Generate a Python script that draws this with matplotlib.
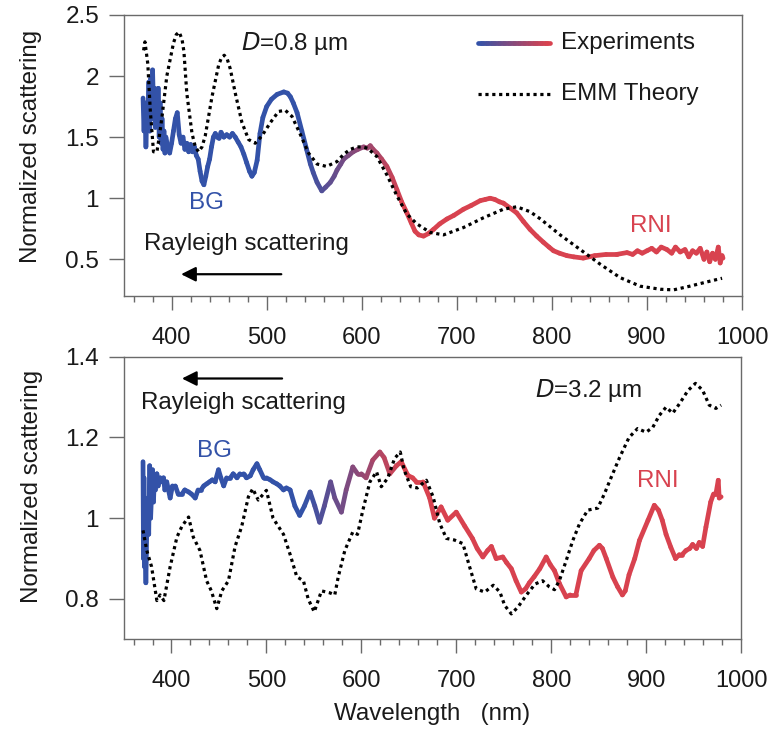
import numpy as np
import matplotlib
matplotlib.use("Agg")
import matplotlib.pyplot as plt
from matplotlib.collections import LineCollection
from matplotlib.colors import to_rgb
from matplotlib.ticker import MultipleLocator, FixedLocator, FixedFormatter

plt.rcParams['font.family'] = ['Liberation Sans', 'DejaVu Sans']

# ---------------- data ----------------
top_exp_wl = [370, 371, 372, 373, 374, 375, 376, 377, 378, 379, 380, 381, 382, 383, 384, 385, 386, 387, 388, 389,
              390, 391, 392, 393, 394, 396, 398, 400, 402, 404, 406, 408, 410, 412, 414, 416, 418, 420, 422, 424,
              426, 428, 430, 432, 434, 436, 438, 440, 442, 444, 446, 448, 450, 452, 455, 458, 461, 464, 467, 470,
              473, 476, 479, 482, 484.5, 487, 490, 493, 496, 500, 505, 511, 518, 522, 525, 528, 532, 537, 542, 546,
              549, 553, 558, 562, 567, 571, 574, 578, 581, 586, 591, 596, 602, 606, 609, 612, 616, 621, 626.5, 632,
              637, 642, 647.5, 652, 656, 660, 665, 670, 675.5, 682, 689.6, 697, 707, 715, 724.6, 730, 735, 740,
              745, 749, 756, 763, 770, 777, 784, 791, 797, 801.7, 808, 815.8, 823, 833, 845, 857, 868, 879,
              885, 890, 895, 900, 905, 910, 915, 921, 926, 930, 935, 940, 944, 948, 952, 956, 960, 963, 966, 969,
              972, 975, 977, 979, 980]
top_exp_val = [1.82, 1.55, 1.78, 1.42, 1.70, 1.60, 1.95, 1.55, 1.98, 1.65, 2.05, 1.75, 1.90, 1.58, 1.85, 1.62, 1.90, 1.50, 1.78, 1.45,
               1.65, 1.40, 1.55, 1.37, 1.50, 1.42, 1.37, 1.45, 1.55, 1.65, 1.70, 1.52, 1.45, 1.50, 1.40, 1.45, 1.38, 1.44, 1.38, 1.42,
               1.35, 1.32, 1.22, 1.14, 1.11, 1.18, 1.26, 1.32, 1.42, 1.50, 1.53, 1.50, 1.49, 1.54, 1.50, 1.52, 1.50, 1.53, 1.50, 1.46,
               1.42, 1.36, 1.29, 1.22, 1.18, 1.21, 1.31, 1.53, 1.66, 1.75, 1.81, 1.85, 1.87, 1.86, 1.83, 1.78, 1.70, 1.55, 1.40, 1.28,
               1.21, 1.13, 1.06, 1.09, 1.13, 1.18, 1.23, 1.28, 1.32, 1.35, 1.38, 1.40, 1.42, 1.41, 1.43, 1.40, 1.37, 1.32, 1.26, 1.17,
               1.07, 0.97, 0.88, 0.80, 0.73, 0.70, 0.69, 0.71, 0.745, 0.79, 0.83, 0.86, 0.91, 0.94, 0.98, 0.99, 1.00, 0.99,
               0.97, 0.96, 0.92, 0.88, 0.81, 0.745, 0.69, 0.64, 0.60, 0.57, 0.55, 0.53, 0.52, 0.51, 0.53, 0.54, 0.54, 0.555,
               0.54, 0.57, 0.55, 0.57, 0.59, 0.56, 0.60, 0.58, 0.55, 0.60, 0.56, 0.58, 0.52, 0.57, 0.55, 0.59, 0.50, 0.56, 0.48, 0.55,
               0.50, 0.60, 0.47, 0.53, 0.51]

top_th_wl = [370.6, 372, 375, 377.6, 381, 384.6, 387, 390, 395, 402, 405, 408, 411, 413, 416, 421.5, 425, 428.4, 432, 435.4,
             442.5, 449.5, 452.5, 455.4, 458.5, 461.7, 467, 474, 481, 488, 495, 504, 512.5, 519.6, 526.6, 535, 544, 553,
             563, 574, 581, 588, 595, 600, 606, 616, 626.5, 637, 647.5, 658, 672, 686, 707, 728, 749, 763, 777, 788,
             808.7, 829.8, 850.8, 871.8, 892.9, 914, 928, 945, 963, 979]
top_th_val = [2.21, 2.28, 2.10, 1.72, 1.38, 1.38, 1.50, 1.67, 2.00, 2.27, 2.34, 2.36, 2.30, 2.20, 1.86, 1.53, 1.42, 1.38, 1.42, 1.51,
              1.83, 2.09, 2.15, 2.17, 2.14, 2.06, 1.86, 1.62, 1.48, 1.45, 1.51, 1.62, 1.71, 1.72, 1.67, 1.53, 1.37, 1.28,
              1.26, 1.30, 1.36, 1.40, 1.42, 1.42, 1.41, 1.34, 1.19, 1.02, 0.87, 0.79, 0.72, 0.70, 0.76, 0.84, 0.91, 0.93, 0.89, 0.83,
              0.70, 0.58, 0.46, 0.35, 0.28, 0.255, 0.25, 0.28, 0.315, 0.345]

bot_exp_wl = [370, 370.5, 371, 371.5, 372, 373, 374, 375, 376, 377, 378, 379, 380, 381, 382, 383, 384.6, 386, 388, 390,
              391.6, 393, 395, 398.6, 401, 404, 407, 411, 414, 418, 421, 425, 428, 431, 434, 437, 440, 443, 446, 449.5,
              452, 455, 458, 462, 465, 469, 472, 476, 479, 483, 486, 490, 493, 497, 500, 504, 507, 511, 514, 518,
              521, 525, 530, 535, 540, 546, 551, 556, 561, 567.6, 572, 579, 584, 591, 596, 600, 605, 612, 619.5, 624,
              630, 637, 642, 649, 654, 658, 665, 672, 677, 684, 691, 700, 709, 717, 722, 728, 733, 737, 742, 749,
              753, 758, 763, 768.5, 773, 777, 782, 788, 794.7, 799, 803.5, 808.7, 815.8, 820, 826, 831.5, 840, 845, 850.8, 854,
              858, 865, 870, 875, 878, 882, 888, 893, 902, 908.6, 913, 917, 921, 926, 931, 935, 938, 942, 946, 949,
              953, 956, 959.5, 963, 968, 971, 973.5, 976, 977, 979]
bot_exp_val = [1.14, 0.90, 1.10, 0.88, 0.95, 0.84, 0.98, 1.05, 0.96, 1.13, 1.00, 1.06, 1.12, 1.04, 1.10, 1.07, 1.11, 1.08, 1.10, 1.09,
               1.10, 1.07, 1.09, 1.05, 1.08, 1.08, 1.06, 1.06, 1.07, 1.065, 1.06, 1.05, 1.07, 1.07, 1.08, 1.085, 1.09, 1.095, 1.09, 1.12,
               1.10, 1.08, 1.10, 1.10, 1.11, 1.10, 1.11, 1.11, 1.10, 1.105, 1.12, 1.135, 1.12, 1.10, 1.10, 1.095, 1.09, 1.085, 1.08, 1.07,
               1.075, 1.07, 1.03, 1.007, 1.03, 1.065, 1.03, 0.99, 1.03, 1.09, 1.05, 1.015, 1.07, 1.127, 1.11, 1.11, 1.10, 1.144, 1.164, 1.15,
               1.11, 1.13, 1.14, 1.106, 1.10, 1.09, 1.09, 1.05, 1.00, 1.028, 0.995, 1.015, 0.98, 0.95, 0.925, 0.904, 0.92, 0.93, 0.90, 0.904,
               0.89, 0.875, 0.845, 0.817, 0.825, 0.84, 0.855, 0.875, 0.904, 0.885, 0.87, 0.838, 0.805, 0.81, 0.81, 0.87, 0.90, 0.92, 0.933, 0.925,
               0.90, 0.854, 0.83, 0.81, 0.82, 0.86, 0.90, 0.945, 0.995, 1.032, 1.02, 0.995, 0.96, 0.928, 0.90, 0.91, 0.91, 0.92, 0.925, 0.935,
               0.925, 0.94, 0.93, 0.978, 1.04, 1.06, 1.06, 1.094, 1.05, 1.053]

bot_th_wl = [370, 374, 379, 384.6, 388, 392, 398.6, 405.7, 411, 418, 423, 430, 437, 442, 447.7, 453, 460, 467, 474, 481,
             485.6, 491.4, 500, 507, 518, 525, 532, 539, 544, 550.4, 558, 567, 572, 575.6, 582.6, 591, 596, 601.6, 609, 616,
             621, 628, 635, 641, 645, 652, 659, 668.5, 675.6, 682.6, 689.6, 698, 707, 714, 721, 730, 739, 746, 751, 758,
             765, 774, 783, 791, 798, 803.5, 808.7, 815.8, 822.8, 829.8, 838.5, 849, 856, 863, 872, 882, 891, 900, 907, 914,
             921, 928, 935, 944, 952, 959.5, 966.5, 973.5, 979]
bot_th_val = [0.97, 0.92, 0.88, 0.796, 0.81, 0.796, 0.88, 0.953, 0.98, 1.003, 0.953, 0.92, 0.845, 0.82, 0.776, 0.82, 0.845, 0.93, 0.98, 1.053,
              1.073, 1.045, 1.069, 1.0, 0.96, 0.91, 0.855, 0.845, 0.80, 0.768, 0.82, 0.815, 0.81, 0.854, 0.92, 0.966, 0.96, 1.02, 1.09, 1.115,
              1.078, 1.10, 1.148, 1.164, 1.12, 1.078, 1.075, 1.094, 1.053, 0.987, 0.95, 0.946, 0.937, 0.88, 0.825, 0.817, 0.834, 0.817, 0.784, 0.763,
              0.78, 0.81, 0.837, 0.845, 0.83, 0.823, 0.846, 0.895, 0.945, 0.986, 1.02, 1.025, 1.06, 1.10, 1.15, 1.20, 1.222, 1.213, 1.225, 1.255,
              1.275, 1.26, 1.283, 1.316, 1.334, 1.317, 1.28, 1.272, 1.28]

top_yticks = [0.5, 1, 1.5, 2, 2.5]
top_yticklabels = ["0.5", "1", "1.5", "2", "2.5"]
bot_yticks = [0.8, 1.0, 1.2, 1.4]
bot_yticklabels = ["0.8", "1", "1.2", "1.4"]

# ---------------- style ----------------
BLUE = "#3352A8"
RED = "#D8424F"
GRAY = "#6a6a6a"
TXT = "#1a1a1a"
FS_XTICK = 17
FS_YTICK = 17.5
FS_TXT = 17.4
EXP_LW = 3.4


def grad_color(w, w0=540.0, w1=645.0):
    t = min(max((w - w0) / (w1 - w0), 0.0), 1.0)
    b = np.array(to_rgb(BLUE))
    r = np.array(to_rgb(RED))
    return tuple(b + (r - b) * t)


def gradient_line(ax, x, y, lw=3.0, transform=None, colors=None):
    pts = np.column_stack([x, y])
    segs = np.stack([pts[:-1], pts[1:]], axis=1)
    if colors is None:
        xm = 0.5 * (np.asarray(x[:-1]) + np.asarray(x[1:]))
        colors = [grad_color(v) for v in xm]
    kw = {}
    if transform is not None:
        kw['transform'] = transform
    lc = LineCollection(segs, colors=colors, linewidths=lw, capstyle='round', joinstyle='round', **kw)
    ax.add_collection(lc)
    return lc


def style_axes(ax, ylim, yticks, ylabels):
    ax.set_xlim(350, 1000)
    ax.set_ylim(*ylim)
    ax.xaxis.set_major_locator(MultipleLocator(100))
    ax.xaxis.set_minor_locator(MultipleLocator(20))
    ax.yaxis.set_major_locator(FixedLocator(yticks))
    ax.yaxis.set_major_formatter(FixedFormatter(ylabels))
    for s in ax.spines.values():
        s.set_color(GRAY)
        s.set_linewidth(1.0)
    ax.tick_params(axis='x', which='major', direction='out', length=10, width=1.0, color=GRAY,
                   labelsize=FS_XTICK, labelcolor=TXT, pad=12)
    ax.tick_params(axis='x', which='minor', direction='out', length=4.5, width=1.0, color=GRAY)
    ax.tick_params(axis='y', which='major', direction='out', length=11, width=1.0, color=GRAY,
                   labelsize=FS_YTICK, labelcolor=TXT, pad=7)
    ax.tick_params(top=False, right=False)


DOT = (0, (1.0, 1.15))
DOT_LW = 2.3

fig = plt.figure(figsize=(7.68, 7.29), dpi=100)
ax1 = fig.add_axes([0.1615, 0.594, 0.8047, 0.3855])
ax2 = fig.add_axes([0.1615, 0.123, 0.8034, 0.3877])

# ---- top panel ----
style_axes(ax1, (0.2, 2.5), top_yticks, top_yticklabels)
ax1.plot(top_th_wl, top_th_val, color='black', lw=DOT_LW, linestyle=DOT, dash_capstyle='butt', zorder=3)
gradient_line(ax1, top_exp_wl, top_exp_val, lw=EXP_LW)
ax1.set_ylabel("Normalized scattering", fontsize=FS_TXT, color=TXT)
ax1.yaxis.set_label_coords(-0.133, 0.532)
ax1.text(0.19, 0.90, r"$\it{D}$=0.8 µm", transform=ax1.transAxes, fontsize=FS_TXT, color=TXT,
         ha='left', va='center')
ax1.text(437, 0.957, "BG", fontsize=FS_TXT, color=BLUE, ha='center', va='center')
ax1.text(904, 0.772, "RNI", fontsize=FS_TXT, color=RED, ha='center', va='center')
ax1.text(371.3, 0.622, "Rayleigh scattering", fontsize=FS_TXT, color=TXT, ha='left', va='center')
ax1.annotate("", xy=(410, 0.378), xytext=(515.4, 0.378),
             arrowprops=dict(arrowstyle='-|>', color='black', lw=1.6, mutation_scale=22, shrinkA=0, shrinkB=0))

# legend (manual)
lx = np.linspace(0.573, 0.689, 30)
ly = np.full_like(lx, 0.900)
lcols = [grad_color(540 + (645 - 540) * (i / (len(lx) - 2))) for i in range(len(lx) - 1)]
gradient_line(ax1, lx, ly, lw=EXP_LW, transform=ax1.transAxes, colors=lcols)
ax1.plot([0.573, 0.689], [0.719, 0.719], transform=ax1.transAxes, color='black', lw=DOT_LW,
         linestyle=DOT, dash_capstyle='butt')
ax1.text(0.707, 0.900, "Experiments", transform=ax1.transAxes, fontsize=FS_TXT, color=TXT, ha='left', va='center')
ax1.text(0.707, 0.719, "EMM Theory", transform=ax1.transAxes, fontsize=FS_TXT, color=TXT, ha='left', va='center')

# ---- bottom panel ----
style_axes(ax2, (0.7, 1.4), bot_yticks, bot_yticklabels)
ax2.plot(bot_th_wl, bot_th_val, color='black', lw=DOT_LW, linestyle=DOT, dash_capstyle='butt', zorder=3)
gradient_line(ax2, bot_exp_wl, bot_exp_val, lw=EXP_LW)
ax2.set_ylabel("Normalized scattering", fontsize=FS_TXT, color=TXT)
ax2.yaxis.set_label_coords(-0.132, 0.54)
ax2.set_xlabel("Wavelength   (nm)", fontsize=FS_TXT, color=TXT, labelpad=8)
ax2.text(0.666, 0.882, r"$\it{D}$=3.2 µm", transform=ax2.transAxes, fontsize=FS_TXT, color=TXT,
         ha='left', va='center')
ax2.text(445, 1.167, "BG", fontsize=FS_TXT, color=BLUE, ha='center', va='center')
ax2.text(911.8, 1.092, "RNI", fontsize=FS_TXT, color=RED, ha='center', va='center')
ax2.text(367.8, 1.286, "Rayleigh scattering", fontsize=FS_TXT, color=TXT, ha='left', va='center')
ax2.annotate("", xy=(411, 1.346), xytext=(516.5, 1.346),
             arrowprops=dict(arrowstyle='-|>', color='black', lw=1.6, mutation_scale=22, shrinkA=0, shrinkB=0))

fig.savefig("out.png", dpi=100, facecolor='white')
